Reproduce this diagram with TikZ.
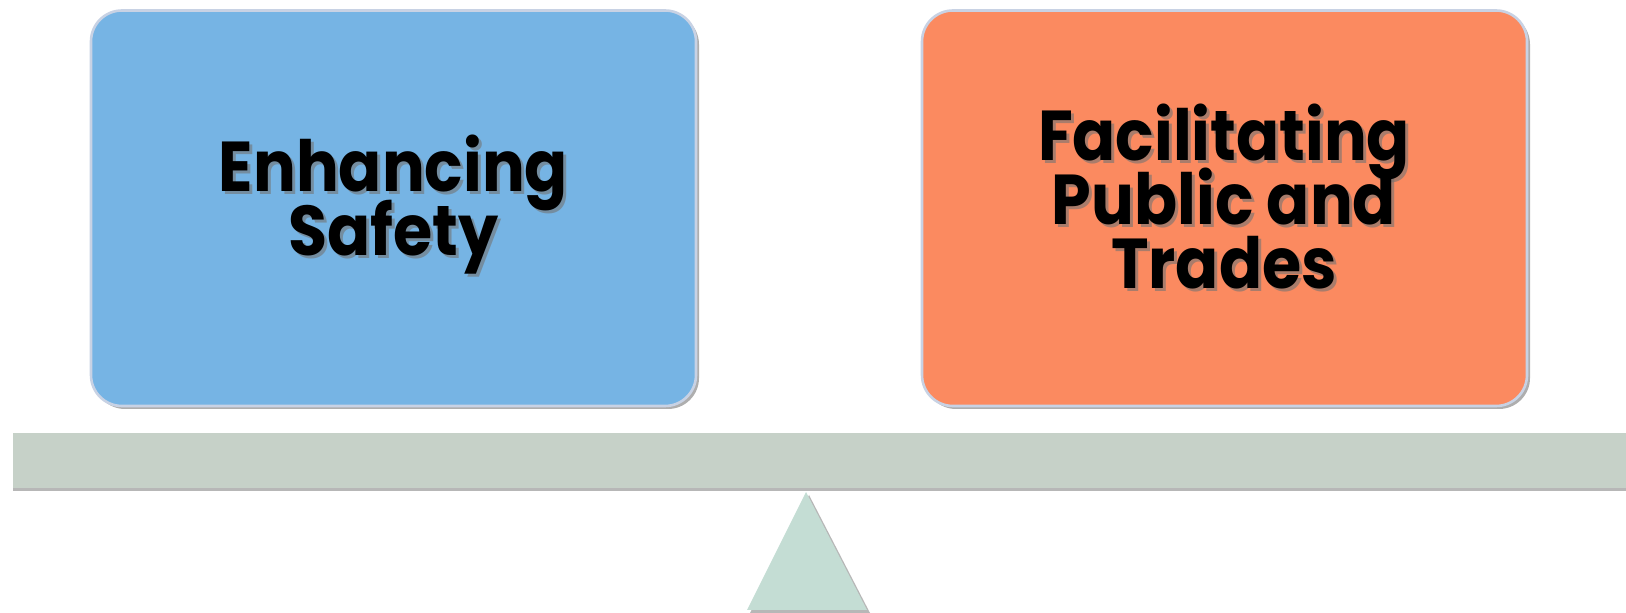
\documentclass[tikz,border=0pt]{standalone}
\usepackage{fontspec}
\setmainfont{Poppins}[FakeStretch=0.9]
\usetikzlibrary{shadows}
\definecolor{boxblue}{HTML}{76B4E4}
\definecolor{boxorange}{HTML}{FB8A60}
\definecolor{boxedge}{HTML}{C8D2E4}
\definecolor{barcol}{HTML}{C6D1C8}
\definecolor{tricol}{HTML}{C4DDD4}
\newcommand{\cardfont}{\fontsize{35.3}{32}\selectfont\lineskiplimit=-100pt\bfseries}
\begin{document}
\begin{tikzpicture}[x=0.5pt,y=-0.5pt,
  card/.style={draw=boxedge, line width=1.3pt, rounded corners=15.5pt,
    drop shadow={shadow xshift=1.5pt, shadow yshift=-1.5pt, opacity=0.45, fill=black!70}},
  cardtext/.style={align=center, font=\cardfont, text=black},
  shadowtext/.style={align=center, font=\cardfont, text=black!55, opacity=0.6},
  beam/.style={fill=barcol, draw=none, drop shadow={shadow xshift=0pt, shadow yshift=-1.5pt, opacity=0.4, fill=black!70}},
  pivot/.style={fill=tricol, draw=none, drop shadow={shadow xshift=1.5pt, shadow yshift=-1.5pt, opacity=0.4, fill=black!70}}
]
\useasboundingbox (0,0) rectangle (1626,613);
\fill[white] (0,0) rectangle (1626,613);
% beam and pivot
\path[beam] (12.5,433) rectangle (1630,488);
\coordinate (apex) at (806,492);
\coordinate (bl) at (747,610);
\coordinate (br) at (867,610);
\path[pivot] (apex) -- (br) -- (bl) -- cycle;
% cards
\path[card, fill=boxblue] (91,10.5) rectangle (696,406);
\path[card, fill=boxorange] (922,10.5) rectangle (1527,406);
\coordinate (lc) at (393.5,204.5);
\coordinate (rc) at (1224,196.5);
\node[shadowtext] (ls) at ([xshift=1.5pt,yshift=-1.5pt]lc) {Enhancing\\Safety};
\node[cardtext] (lt) at (lc) {Enhancing\\Safety};
\node[shadowtext] (rs) at ([xshift=1.5pt,yshift=-1.5pt]rc) {Facilitating\\Public and\\Trades};
\node[cardtext] (rt) at (rc) {Facilitating\\Public and\\Trades};
\end{tikzpicture}
\end{document}
